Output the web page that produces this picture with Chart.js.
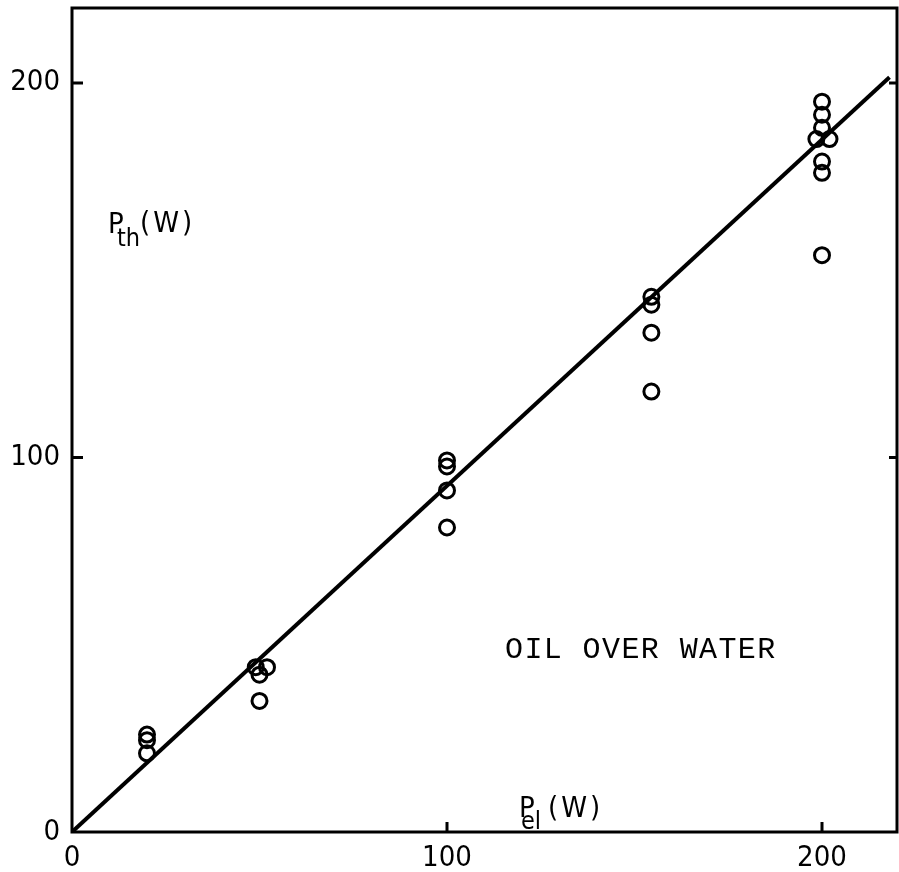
<!DOCTYPE html>
<html>
<head>
<meta charset="utf-8">
<title>Oil over water</title>
<script src="https://cdn.jsdelivr.net/npm/chart.js@4/dist/chart.umd.min.js"></script>
<style>
  html, body { margin: 0; padding: 0; background: #fff; }
  #wrap { width: 899px; height: 872px; }
</style>
</head>
<body>
<div id="wrap"><canvas id="chart"></canvas></div>
<script>
// Measured points, electric vs thermal power in W
const pElValues = [20, 20, 20, 49, 52, 50, 50, 100, 100, 100, 100, 154.5, 154.5, 154.5, 154.5, 200, 200, 200, 198.5, 202, 200, 200, 200];
const pThValues = [26, 24.5, 21, 44, 44, 42, 35, 99.2, 97.6, 91.2, 81.3, 142.9, 140.8, 133.3, 117.6, 195, 191.5, 188, 185, 185, 179, 176, 154];

// straight line through the origin
const fitX = [0, 218];
const fitY = [0, 201.5];

// axes
const axisTicks = [0, 100, 200];
const markTicks = [100, 200];
const axisMin = 0;
const axisMax = 220;

const numFont = "'Liberation Sans Narrow', 'DejaVu Sans Condensed', sans-serif";
const monoFont = "'Liberation Mono', 'DejaVu Sans Mono', monospace";

// no extra room for the end labels, the box is fixed by the layout padding
function noPadding(s) {
  s.paddingTop = 0;
  s.paddingBottom = 0;
  s.paddingLeft = 0;
  s.paddingRight = 0;
}

// box round the plot, inward tick marks and the text labels
const framePlugin = {
  id: 'frame',
  afterDraw(chart) {
    const { ctx, chartArea: a, scales } = chart;
    ctx.save();
    ctx.strokeStyle = '#000';
    ctx.lineWidth = 3;
    ctx.strokeRect(a.left, a.top, a.right - a.left, a.bottom - a.top);

    ctx.beginPath();
    markTicks.forEach(v => {
      const px = scales.x.getPixelForValue(v);
      ctx.moveTo(px, a.bottom);
      ctx.lineTo(px, a.bottom - 10);
      const py = scales.y.getPixelForValue(v);
      ctx.moveTo(a.left, py);
      ctx.lineTo(a.left + 11, py);
      ctx.moveTo(a.right, py);
      ctx.lineTo(a.right - 8, py);
    });
    ctx.stroke();

    ctx.fillStyle = '#000';
    ctx.textBaseline = 'alphabetic';
    ctx.textAlign = 'left';

    // P_th (W)
    ctx.font = '29px ' + numFont;
    ctx.fillText('P', 108, 233);
    ctx.font = '25px ' + numFont;
    ctx.fillText('th', 117, 246);
    ctx.font = '29px ' + numFont;
    ctx.letterSpacing = '3px';
    ctx.fillText('(W)', 140, 232);
    ctx.letterSpacing = '0px';

    // P_el (W)
    ctx.font = '29px ' + numFont;
    ctx.fillText('P', 519, 817);
    ctx.font = '25px ' + numFont;
    ctx.fillText('el', 521, 829);
    ctx.font = '29px ' + numFont;
    ctx.letterSpacing = '3px';
    ctx.fillText('(W)', 548, 817);

    ctx.font = '30px ' + monoFont;
    ctx.letterSpacing = '1.4px';
    ctx.fillText('OIL OVER WATER', 505, 658);
    ctx.restore();
  }
};

const ctx = document.getElementById('chart').getContext('2d');
new Chart(ctx, {
  type: 'scatter',
  data: {
    datasets: [
      {
        label: 'measured',
        data: pElValues.map((x, i) => ({ x, y: pThValues[i] })),
        pointStyle: 'circle',
        pointRadius: 7.5,
        pointBorderWidth: 3,
        pointBorderColor: '#000',
        pointBackgroundColor: 'rgba(0,0,0,0)'
      },
      {
        type: 'line',
        label: 'fit',
        data: fitX.map((x, i) => ({ x, y: fitY[i] })),
        borderColor: '#000',
        borderWidth: 4,
        pointRadius: 0,
        fill: false
      }
    ]
  },
  options: {
    responsive: true,
    maintainAspectRatio: false,
    animation: false,
    layout: { autoPadding: false, padding: { top: 8, right: 2, left: 0, bottom: 0 } },
    plugins: { legend: { display: false }, tooltip: { enabled: false } },
    scales: {
      x: {
        type: 'linear',
        min: axisMin,
        max: axisMax,
        afterBuildTicks: s => { s.ticks = axisTicks.map(value => ({ value })); },
        afterFit: s => { s.height = 40; noPadding(s); },
        grid: { display: false, drawTicks: false },
        border: { display: false },
        ticks: { color: '#000', padding: 9, font: { family: numFont, size: 29 } }
      },
      y: {
        type: 'linear',
        min: axisMin,
        max: axisMax,
        afterBuildTicks: s => { s.ticks = axisTicks.map(value => ({ value })); },
        afterFit: s => { s.width = 72; noPadding(s); },
        grid: { display: false, drawTicks: false },
        border: { display: false },
        ticks: { color: '#000', padding: 12, font: { family: numFont, size: 29 } }
      }
    }
  },
  plugins: [framePlugin]
});
</script>
</body>
</html>
